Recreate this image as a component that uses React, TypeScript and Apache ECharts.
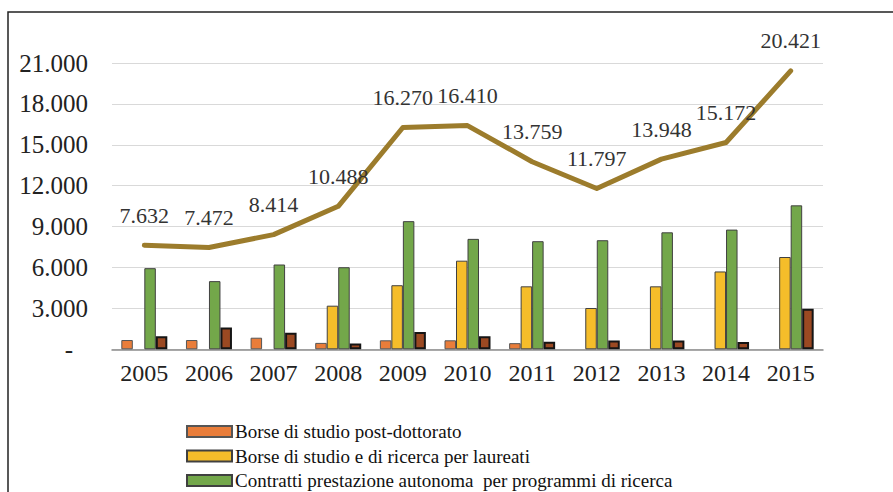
import React, { useEffect, useRef } from "react";
import * as echarts from "echarts";

const years = ["2005", "2006", "2007", "2008", "2009", "2010", "2011", "2012", "2013", "2014", "2015"];
const postDoc = [680, 680, 850, 470, 660, 660, 450, null, null, null, null];
const laureati = [null, null, null, 3200, 4700, 6500, 4620, 3030, 4620, 5710, 6770];
const contratti = [5950, 5000, 6220, 6020, 9400, 8100, 7930, 8000, 8580, 8780, 10560];
const altro = [950, 1600, 1220, 430, 1270, 950, 560, 650, 650, 540, 2980];
const totale = [7632, 7472, 8414, 10488, 16270, 16410, 13759, 11797, 13948, 15172, 20421];

const names = [
  "Borse di studio post-dottorato",
  "Borse di studio e di ricerca per laureati",
  "Contratti prestazione autonoma  per programmi di ricerca",
  "Altro",
  "Totale",
];

const FONT = "Liberation Serif";
const fmt = (v: number) => String(Math.round(v)).replace(/\B(?=(\d{3})+(?!\d))/g, ".");

export default function App() {
  const ref = useRef<HTMLDivElement>(null);
  useEffect(() => {
    if (!ref.current) return;
    const chart = echarts.init(ref.current, undefined, { renderer: "svg" });
    const barBase = (name: string, data: (number | null)[], color: string, border: string, bw: number) => ({
      name,
      type: "bar",
      data,
      barWidth: 11.5,
      barGap: "0%",
      itemStyle: { color, borderColor: border, borderWidth: bw },
    });
    chart.setOption({
      animation: false,
      backgroundColor: "#ffffff",
      textStyle: { fontFamily: FONT },
      grid: { left: 112, right: 70, top: 63, bottom: 142.7 },
      graphic: [
        {
          type: "rect",
          silent: true,
          shape: { x: 8, y: 12, width: 900, height: 500 },
          style: { fill: "none", stroke: "#222222", lineWidth: 1.5 },
        },
      ],
      legend: {
        data: names.slice(0, 3),
        orient: "vertical",
        left: 186,
        top: 422,
        padding: 0,
        itemGap: 5.5,
        itemWidth: 45,
        itemHeight: 11,
        icon: "rect",
        textStyle: { fontFamily: FONT, fontSize: 19, color: "#111111", padding: [2, 0, 0, -2] },
      },
      xAxis: {
        type: "category",
        data: years,
        axisLine: { lineStyle: { color: "#8c8c8c", width: 1.5 } },
        axisTick: { length: 7, lineStyle: { color: "#8c8c8c", width: 1.5 } },
        axisLabel: { fontFamily: FONT, fontSize: 24, color: "#222222", margin: 12 },
      },
      yAxis: {
        type: "value",
        min: 0,
        max: 21000,
        interval: 3000,
        axisLine: { show: false },
        axisTick: { show: false },
        splitLine: { lineStyle: { color: "#d9d9d9", width: 1.2 } },
        axisLabel: {
          fontFamily: FONT,
          fontSize: 25,
          color: "#222222",
          margin: 24,
          formatter: (v: number) => (v === 0 ? "{z|-}" : fmt(v)),
          rich: { z: { fontFamily: FONT, fontSize: 25, color: "#222222", padding: [0, 15, 0, 0] } },
        },
      },
      series: [
        barBase(names[0], postDoc, "#E97D3A", "#555555", 1),
        barBase(names[1], laureati, "#F5BD2A", "#404040", 1),
        barBase(names[2], contratti, "#73A74A", "#404040", 1),
        barBase(names[3], altro, "#9B4922", "#151515", 2),
        {
          name: names[4],
          type: "line",
          data: totale,
          z: 5,
          symbol: "circle",
          symbolSize: 0.1,
          showSymbol: true,
          lineStyle: { color: "#9C7C2C", width: 5, cap: "round", join: "round" },
          itemStyle: { color: "#9C7C2C" },
          label: {
            show: true,
            position: "top",
            distance: 19,
            fontFamily: FONT,
            fontSize: 22,
            color: "#333333",
            formatter: (p: any) => fmt(p.value),
          },
        },
      ],
    });
    return () => chart.dispose();
  }, []);
  return <div ref={ref} style={{ position: "fixed", left: 0, top: 0, width: 893, height: 492 }} />;
}
